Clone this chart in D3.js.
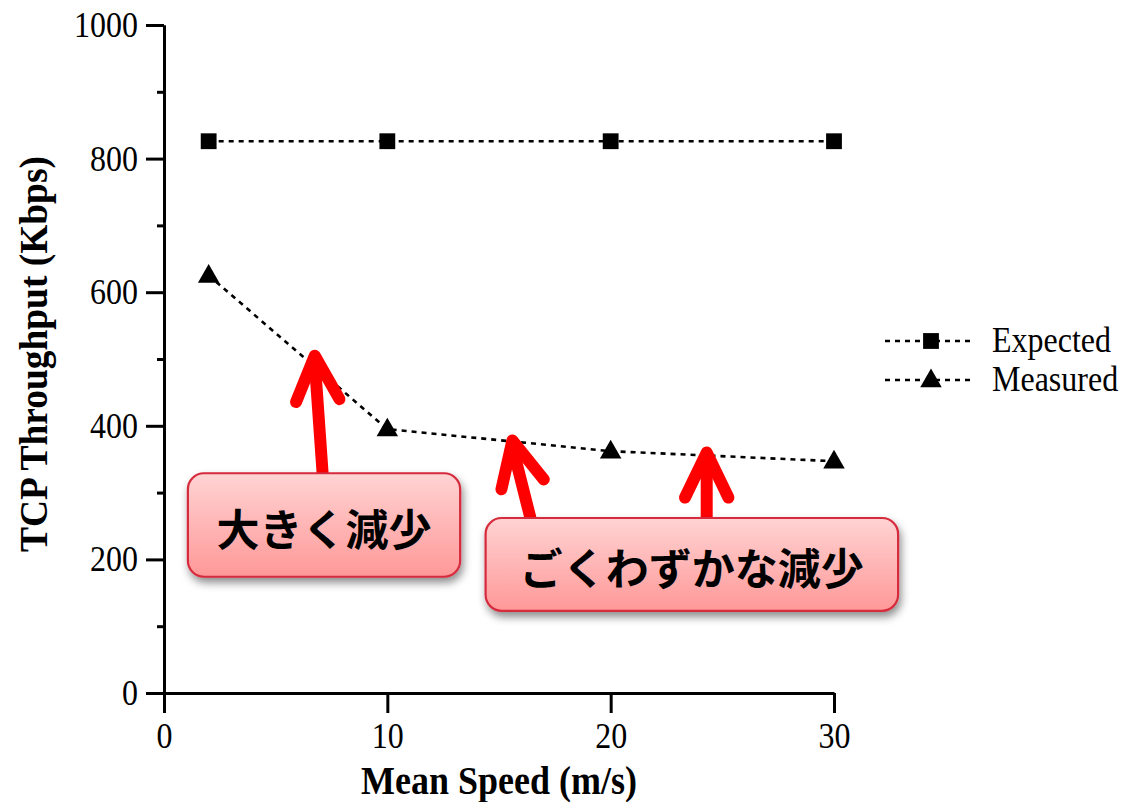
<!DOCTYPE html>
<html>
<head>
<meta charset="utf-8">
<script src="https://cdn.jsdelivr.net/npm/d3@7"></script>
<style>
  html, body { margin: 0; padding: 0; background: #fff; }
  svg { display: block; }
</style>
</head>
<body>
<svg id="chart" width="1126" height="802"></svg>
<script>
// Mean speed (m/s) and TCP throughput (Kbps)
const speeds = [2, 10, 20, 30];
const expected = [826, 826, 826, 826];
const measured = [625, 395, 362, 347];
const seriesNames = ["Expected", "Measured"];
const xTicks = [0, 10, 20, 30];
const yMajorTicks = [0, 200, 400, 600, 800, 1000];
const yMinorTicks = [100, 300, 500, 700, 900];

// Callouts: label box (data coords) and arrows (base -> tip, data coords)
const calloutLabels = ["大きく減少", "ごくわずかな減少"];
const calloutBoxes = [
  { x0: 1.07, x1: 13.26, y0: 329, y1: 174 },
  { x0: 14.4, x1: 32.87, y0: 262, y1: 123 }
];
const arrowBases = [[7.1, 330], [16.4, 263], [24.3, 263]];
const arrowTips = [[6.75, 505], [15.6, 378], [24.3, 360]];

const svg = d3.select("#chart");
const serif = "'Liberation Serif', 'Times New Roman', serif";
const stretch = "scale(1,1.12)";

const x = d3.scaleLinear().domain([0, 30]).range([164, 834]);
const y = d3.scaleLinear().domain([0, 1000]).range([693, 25]);

// Defs: gradient and shadow for callout boxes
const defs = svg.append("defs");
const grad = defs.append("linearGradient").attr("id", "boxGrad")
  .attr("x1", 0).attr("y1", 0).attr("x2", 0).attr("y2", 1);
grad.append("stop").attr("offset", "0%").attr("stop-color", "#ffd3d3");
grad.append("stop").attr("offset", "100%").attr("stop-color", "#ff9898");
const shadow = defs.append("filter").attr("id", "shadow")
  .attr("x", "-10%").attr("y", "-10%").attr("width", "130%").attr("height", "140%");
shadow.append("feDropShadow").attr("dx", 2).attr("dy", 5)
  .attr("stdDeviation", 4).attr("flood-color", "#000").attr("flood-opacity", 0.45);

// Axes
const yMajor = d3.axisLeft(y).tickValues(yMajorTicks).tickSize(18).tickSizeOuter(0)
  .tickPadding(8).tickFormat(d3.format("d"));
const yMinor = d3.axisLeft(y).tickValues(yMinorTicks).tickSize(7).tickSizeOuter(0).tickFormat("");
const xAxis = d3.axisBottom(x).tickValues(xTicks).tickSize(20).tickSizeOuter(0)
  .tickPadding(6).tickFormat(d3.format("d"));

function styleAxis(g) {
  g.selectAll("path.domain").attr("stroke", "#000").attr("stroke-width", 3);
  g.selectAll(".tick line").attr("stroke", "#000").attr("stroke-width", 3);
  g.selectAll(".tick text").attr("fill", "#000").attr("transform", stretch)
    .style("font-family", serif).style("font-size", "32px");
}

svg.append("g").attr("transform", `translate(${x(0)},0)`).call(yMinor).call(styleAxis);
svg.append("g").attr("transform", `translate(${x(0)},0)`).call(yMajor).call(styleAxis);
svg.append("g").attr("transform", `translate(0,${y(0)})`).call(xAxis).call(styleAxis);

// Axis titles
svg.append("text")
  .attr("transform", `translate(${(x(0) + x(30)) / 2},794) ${stretch}`)
  .attr("text-anchor", "middle")
  .style("font-family", serif).style("font-weight", "bold").style("font-size", "36px")
  .text("Mean Speed (m/s)");
svg.append("text")
  .attr("transform", `translate(47,354) rotate(-90) scale(1.04,1.1)`)
  .attr("text-anchor", "middle")
  .style("font-family", serif).style("font-weight", "bold").style("font-size", "36px")
  .text("TCP Throughput (Kbps)");

// Series lines
const dash = "5,5";
const line = d3.line().x((d, i) => x(speeds[i])).y(d => y(d));

svg.append("path").datum(expected).attr("d", line)
  .attr("fill", "none").attr("stroke", "#000").attr("stroke-width", 2.6).attr("stroke-dasharray", dash);
svg.append("path").datum(measured).attr("d", line)
  .attr("fill", "none").attr("stroke", "#000").attr("stroke-width", 2.6).attr("stroke-dasharray", dash);

const sq = d3.symbol().type(d3.symbolSquare).size(250);
const tri = d3.symbol().type(d3.symbolTriangle).size(200);

svg.append("g").selectAll("path").data(expected).join("path")
  .attr("d", sq).attr("fill", "#000")
  .attr("transform", (d, i) => `translate(${x(speeds[i])},${y(d)})`);
svg.append("g").selectAll("path").data(measured).join("path")
  .attr("d", tri).attr("fill", "#000")
  .attr("transform", (d, i) => `translate(${x(speeds[i])},${y(d) + 1})`);

// Legend
const legend = svg.append("g");
const legendRows = [{ sym: sq, y: 341 }, { sym: tri, y: 380 }];
legendRows.forEach((r, i) => {
  legend.append("line").attr("x1", 885).attr("x2", 972).attr("y1", r.y).attr("y2", r.y)
    .attr("stroke", "#000").attr("stroke-width", 2.6).attr("stroke-dasharray", dash);
  legend.append("path").attr("d", r.sym).attr("fill", "#000")
    .attr("transform", `translate(931,${r.y + (i === 1 ? 1 : 0)})`);
  legend.append("text")
    .attr("transform", `translate(992,${r.y + 11}) ${stretch}`)
    .style("font-family", serif).style("font-size", "32px").attr("fill", "#000")
    .text(seriesNames[i]);
});

// Red arrows
const arrowG = svg.append("g").attr("stroke", "#ff0000").attr("stroke-width", 12)
  .attr("stroke-linecap", "round").attr("stroke-linejoin", "round").attr("fill", "none");
arrowBases.forEach((b, i) => {
  const t = arrowTips[i];
  const bx = x(b[0]), by = y(b[1]), tx = x(t[0]), ty = y(t[1]);
  arrowG.append("line").attr("x1", bx).attr("y1", by).attr("x2", tx).attr("y2", ty + 6);
  const ang = Math.atan2(by - ty, bx - tx);
  const len = 50, spread = 0.45;
  const p1 = [tx + len * Math.cos(ang - spread), ty + len * Math.sin(ang - spread)];
  const p2 = [tx + len * Math.cos(ang + spread), ty + len * Math.sin(ang + spread)];
  arrowG.append("path").attr("d", `M${p1[0]},${p1[1]} L${tx},${ty} L${p2[0]},${p2[1]}`);
});

// Callout boxes
calloutBoxes.forEach((b, i) => {
  const bx = x(b.x0), by = y(b.y0), bw = x(b.x1) - x(b.x0), bh = y(b.y1) - y(b.y0);
  svg.append("rect").attr("x", bx).attr("y", by).attr("width", bw).attr("height", bh)
    .attr("rx", 16).attr("ry", 16)
    .attr("fill", "url(#boxGrad)").attr("stroke", "#d62a3c").attr("stroke-width", 2.2)
    .attr("filter", "url(#shadow)");
  svg.append("text").attr("x", bx + bw / 2).attr("y", by + bh / 2 + 2)
    .attr("text-anchor", "middle").attr("dominant-baseline", "central")
    .style("font-family", "'Noto Sans CJK JP', sans-serif").style("font-weight", "bold")
    .style("font-size", "43px").attr("fill", "#000")
    .text(calloutLabels[i]);
});
</script>
</body>
</html>
